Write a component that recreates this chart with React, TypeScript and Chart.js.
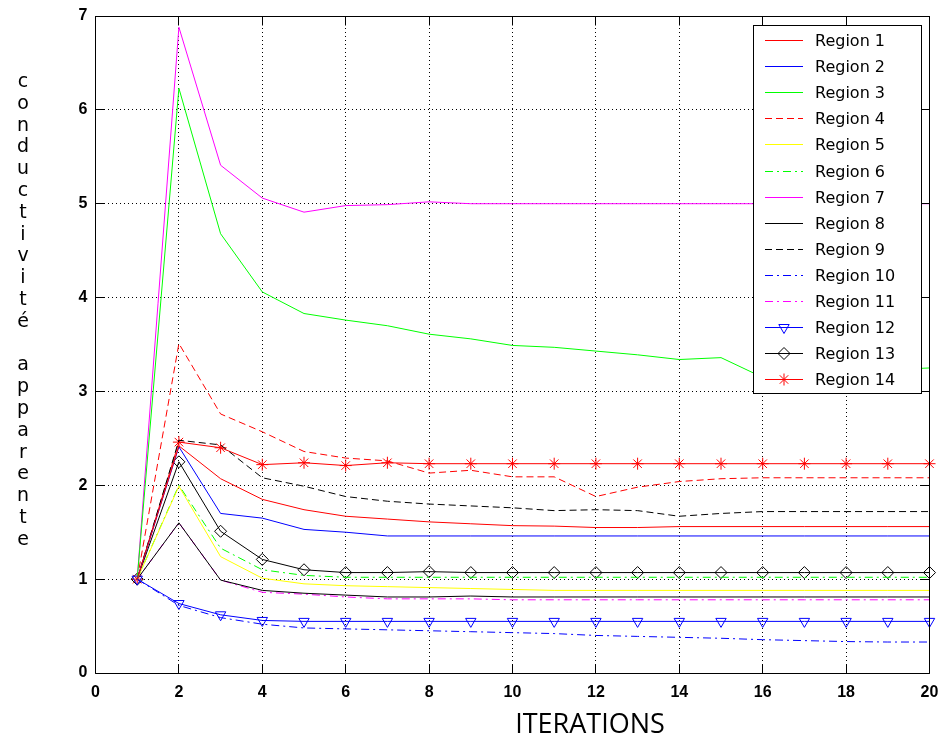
import React, { useEffect, useRef } from 'react';
import { Chart, registerables } from 'chart.js';
import { drawPoint } from 'chart.js/helpers';

Chart.register(...registerables);

// ---- data ----
const iterations = [1, 2, 3, 4, 5, 6, 7, 8, 9, 10, 11, 12, 13, 14, 15, 16, 17, 18, 19, 20];

const region1 = [1, 2.42, 2.07, 1.85, 1.74, 1.67, 1.64, 1.61, 1.59, 1.57, 1.565, 1.55, 1.55, 1.56, 1.56, 1.56, 1.56, 1.56, 1.56, 1.56];
const region2 = [1, 2.41, 1.70, 1.65, 1.53, 1.50, 1.46, 1.46, 1.46, 1.46, 1.46, 1.46, 1.46, 1.46, 1.46, 1.46, 1.46, 1.46, 1.46, 1.46];
const region3 = [1, 6.23, 4.68, 4.06, 3.83, 3.76, 3.70, 3.61, 3.56, 3.49, 3.47, 3.43, 3.39, 3.34, 3.36, 3.15, 3.18, 3.20, 3.23, 3.25];
const region4 = [1, 3.51, 2.76, 2.57, 2.36, 2.29, 2.26, 2.13, 2.16, 2.09, 2.09, 1.88, 1.98, 2.04, 2.07, 2.08, 2.08, 2.08, 2.08, 2.08];
const region5 = [1, 1.99, 1.24, 1.01, 0.95, 0.93, 0.92, 0.91, 0.90, 0.89, 0.88, 0.88, 0.88, 0.88, 0.88, 0.88, 0.88, 0.88, 0.88, 0.88];
const region6 = [1, 2.00, 1.33, 1.10, 1.04, 1.02, 1.02, 1.02, 1.02, 1.02, 1.02, 1.02, 1.02, 1.02, 1.02, 1.02, 1.02, 1.02, 1.02, 1.02];
const region7 = [1, 6.88, 5.41, 5.06, 4.91, 4.98, 4.99, 5.02, 5.00, 5.00, 5.00, 5.00, 5.00, 5.00, 5.00, 5.00, 5.00, 5.00, 5.00, 5.00];
const region8 = [1, 1.60, 0.99, 0.88, 0.85, 0.83, 0.81, 0.81, 0.82, 0.81, 0.81, 0.81, 0.81, 0.81, 0.81, 0.81, 0.81, 0.81, 0.81, 0.81];
const region9 = [1, 2.48, 2.43, 2.08, 1.99, 1.88, 1.83, 1.80, 1.78, 1.76, 1.73, 1.74, 1.73, 1.67, 1.70, 1.72, 1.72, 1.72, 1.72, 1.72];
const region10 = [1, 0.72, 0.59, 0.52, 0.48, 0.47, 0.46, 0.45, 0.44, 0.43, 0.42, 0.40, 0.39, 0.38, 0.37, 0.355, 0.345, 0.335, 0.33, 0.33];
const region11 = [1, 1.60, 0.99, 0.86, 0.84, 0.81, 0.79, 0.79, 0.79, 0.78, 0.78, 0.78, 0.78, 0.78, 0.78, 0.78, 0.78, 0.78, 0.78, 0.78];
const region12 = [1, 0.74, 0.62, 0.56, 0.55, 0.55, 0.55, 0.55, 0.55, 0.55, 0.55, 0.55, 0.55, 0.55, 0.55, 0.55, 0.55, 0.55, 0.55, 0.55];
const region13 = [1, 2.25, 1.51, 1.21, 1.10, 1.07, 1.07, 1.08, 1.07, 1.07, 1.07, 1.07, 1.07, 1.07, 1.07, 1.07, 1.07, 1.07, 1.07, 1.07];
const region14 = [1, 2.46, 2.40, 2.22, 2.24, 2.21, 2.24, 2.23, 2.23, 2.23, 2.23, 2.23, 2.23, 2.23, 2.23, 2.23, 2.23, 2.23, 2.23, 2.23];

const seriesLabels = [
  'Region 1', 'Region 2', 'Region 3', 'Region 4', 'Region 5', 'Region 6', 'Region 7',
  'Region 8', 'Region 9', 'Region 10', 'Region 11', 'Region 12', 'Region 13', 'Region 14',
];
const seriesValues = [
  region1, region2, region3, region4, region5, region6, region7,
  region8, region9, region10, region11, region12, region13, region14,
];

const xTickValues = [0, 2, 4, 6, 8, 10, 12, 14, 16, 18, 20];
const yTickValues = [0, 1, 2, 3, 4, 5, 6, 7];
const yTitle = 'conductivité apparente';
const xTitle = 'ITERATIONS';

// ---- styles ----
const RED = '#ff0000';
const BLUE = '#0000ff';
const GREEN = '#00ff00';
const YELLOW = '#ffff00';
const MAGENTA = '#ff00ff';
const BLACK = '#000000';
const DASH = [7, 4];
const DASHDOT = [8, 4, 2, 4];

type Style = { color: string; dash: number[]; marker?: string; rotation?: number };
const styles: Style[] = [
  { color: RED, dash: [] },
  { color: BLUE, dash: [] },
  { color: GREEN, dash: [] },
  { color: RED, dash: DASH },
  { color: YELLOW, dash: [] },
  { color: GREEN, dash: DASHDOT },
  { color: MAGENTA, dash: [] },
  { color: BLACK, dash: [] },
  { color: BLACK, dash: DASH },
  { color: BLUE, dash: DASHDOT },
  { color: MAGENTA, dash: DASHDOT },
  { color: BLUE, dash: [], marker: 'triangle', rotation: 180 },
  { color: BLACK, dash: [], marker: 'rectRot' },
  { color: RED, dash: [], marker: 'star' },
];
const MARKER_R = 6;

const CANVAS_W = 943;
const CANVAS_H = 749;

const px = (v: number) => Math.floor(v) + 0.5;

const decorPlugin = {
  id: 'decor',
  afterDatasetsDraw(chart: any) {
    const { ctx, chartArea: a, scales } = chart;
    const xs = scales.x;
    const ys = scales.y;
    ctx.save();
    ctx.setLineDash([]);
    ctx.strokeStyle = '#000';
    ctx.lineWidth = 1;
    const L = px(a.left), R = px(a.right), T = px(a.top), B = px(a.bottom);
    // frame
    ctx.beginPath();
    ctx.rect(L, T, R - L, B - T);
    ctx.stroke();
    // inward ticks
    const tl = 9;
    ctx.beginPath();
    xTickValues.forEach((v) => {
      const x = px(xs.getPixelForValue(v));
      ctx.moveTo(x, B); ctx.lineTo(x, B - tl);
      ctx.moveTo(x, T); ctx.lineTo(x, T + tl);
    });
    yTickValues.forEach((v) => {
      const y = px(ys.getPixelForValue(v));
      ctx.moveTo(L, y); ctx.lineTo(L + tl, y);
      ctx.moveTo(R, y); ctx.lineTo(R - tl, y);
    });
    ctx.stroke();

    // legend box
    const lx = 753, ly = 25, lw = 168, lh = 368;
    ctx.fillStyle = '#ffffff';
    ctx.fillRect(lx, ly, lw, lh);
    ctx.strokeStyle = '#000';
    ctx.strokeRect(lx + 0.5, ly + 0.5, lw, lh);
    ctx.font = '16px "DejaVu Sans"';
    ctx.textBaseline = 'middle';
    ctx.textAlign = 'left';
    chart.data.datasets.forEach((ds: any, i: number) => {
      const cy = Math.round(ly + 15 + i * 26.1) + 0.5;
      const st = styles[i];
      ctx.save();
      ctx.strokeStyle = st.color;
      ctx.lineWidth = 1;
      ctx.setLineDash(st.dash);
      ctx.beginPath();
      ctx.moveTo(lx + 12, cy);
      ctx.lineTo(lx + 50, cy);
      ctx.stroke();
      ctx.setLineDash([]);
      if (st.marker) {
        ctx.fillStyle = 'rgba(0,0,0,0)';
        drawPoint(ctx, { pointStyle: st.marker, rotation: st.rotation || 0, radius: MARKER_R, borderWidth: 1 } as any, lx + 31, cy);
      }
      ctx.restore();
      ctx.fillStyle = '#000';
      ctx.fillText(ds.label, lx + 62, cy + 1);
    });

    // y title (stacked letters)
    ctx.font = '19px "DejaVu Sans"';
    ctx.textAlign = 'center';
    ctx.textBaseline = 'middle';
    ctx.fillStyle = '#000';
    Array.from(yTitle).forEach((ch, i) => {
      if (ch !== ' ') ctx.fillText(ch, 23, 82 + i * 21.8);
    });
    // x title
    ctx.font = '27px "Open Sans"';
    ctx.fillText(xTitle, 590, 725);
    ctx.restore();
  },
};

export default function App() {
  const ref = useRef<HTMLCanvasElement | null>(null);
  useEffect(() => {
    if (!ref.current) return;
    const datasets = seriesValues.map((vals, i) => {
      const st = styles[i];
      return {
        label: seriesLabels[i],
        data: iterations.map((it, k) => ({ x: it, y: vals[k] })),
        borderColor: st.color,
        backgroundColor: st.color,
        borderWidth: 1,
        borderDash: st.dash,
        fill: false,
        tension: 0,
        pointRadius: st.marker ? MARKER_R : 0,
        pointHoverRadius: st.marker ? MARKER_R : 0,
        pointStyle: st.marker || 'circle',
        pointRotation: st.rotation || 0,
        pointBorderColor: st.color,
        pointBackgroundColor: 'rgba(0,0,0,0)',
        pointBorderWidth: 1,
        clip: false as any,
      };
    });
    const chart = new Chart(ref.current, {
      type: 'line',
      data: { datasets },
      options: {
        responsive: false,
        animation: false,
        events: [],
        layout: { padding: { left: 0, top: 16, right: 13.5, bottom: 0 } },
        plugins: { legend: { display: false }, tooltip: { enabled: false } },
        scales: {
          x: {
            type: 'linear',
            min: 0,
            max: 20,
            afterFit: (s: any) => {
              s.height = 76;
              s.paddingLeft = 0;
              s.paddingRight = 0;
            },
            afterBuildTicks: (s: any) => { s.ticks = xTickValues.map((v) => ({ value: v })); },
            ticks: {
              padding: 10,
              color: '#000',
              font: { family: '"Liberation Sans"', size: 16, weight: 'bold' },
              maxRotation: 0,
              autoSkip: false,
            },
            grid: { color: '#000', lineWidth: 1, drawTicks: false },
            border: { display: false, dash: [1, 3] },
          },
          y: {
            type: 'linear',
            min: 0,
            max: 7,
            afterFit: (s: any) => {
              s.width = 95.5;
              s.paddingTop = 0;
              s.paddingBottom = 0;
            },
            afterBuildTicks: (s: any) => { s.ticks = yTickValues.map((v) => ({ value: v })); },
            ticks: {
              padding: 8,
              color: '#000',
              font: { family: '"Liberation Sans"', size: 16, weight: 'bold' },
            },
            grid: { color: '#000', lineWidth: 1, drawTicks: false },
            border: { display: false, dash: [1, 3] },
          },
        },
      },
      plugins: [decorPlugin],
    });
    return () => chart.destroy();
  }, []);
  return (
    <div style={{ position: 'absolute', left: 0, top: 0, width: CANVAS_W, height: CANVAS_H }}>
      <canvas ref={ref} width={CANVAS_W} height={CANVAS_H} style={{ display: 'block' }} />
    </div>
  );
}
